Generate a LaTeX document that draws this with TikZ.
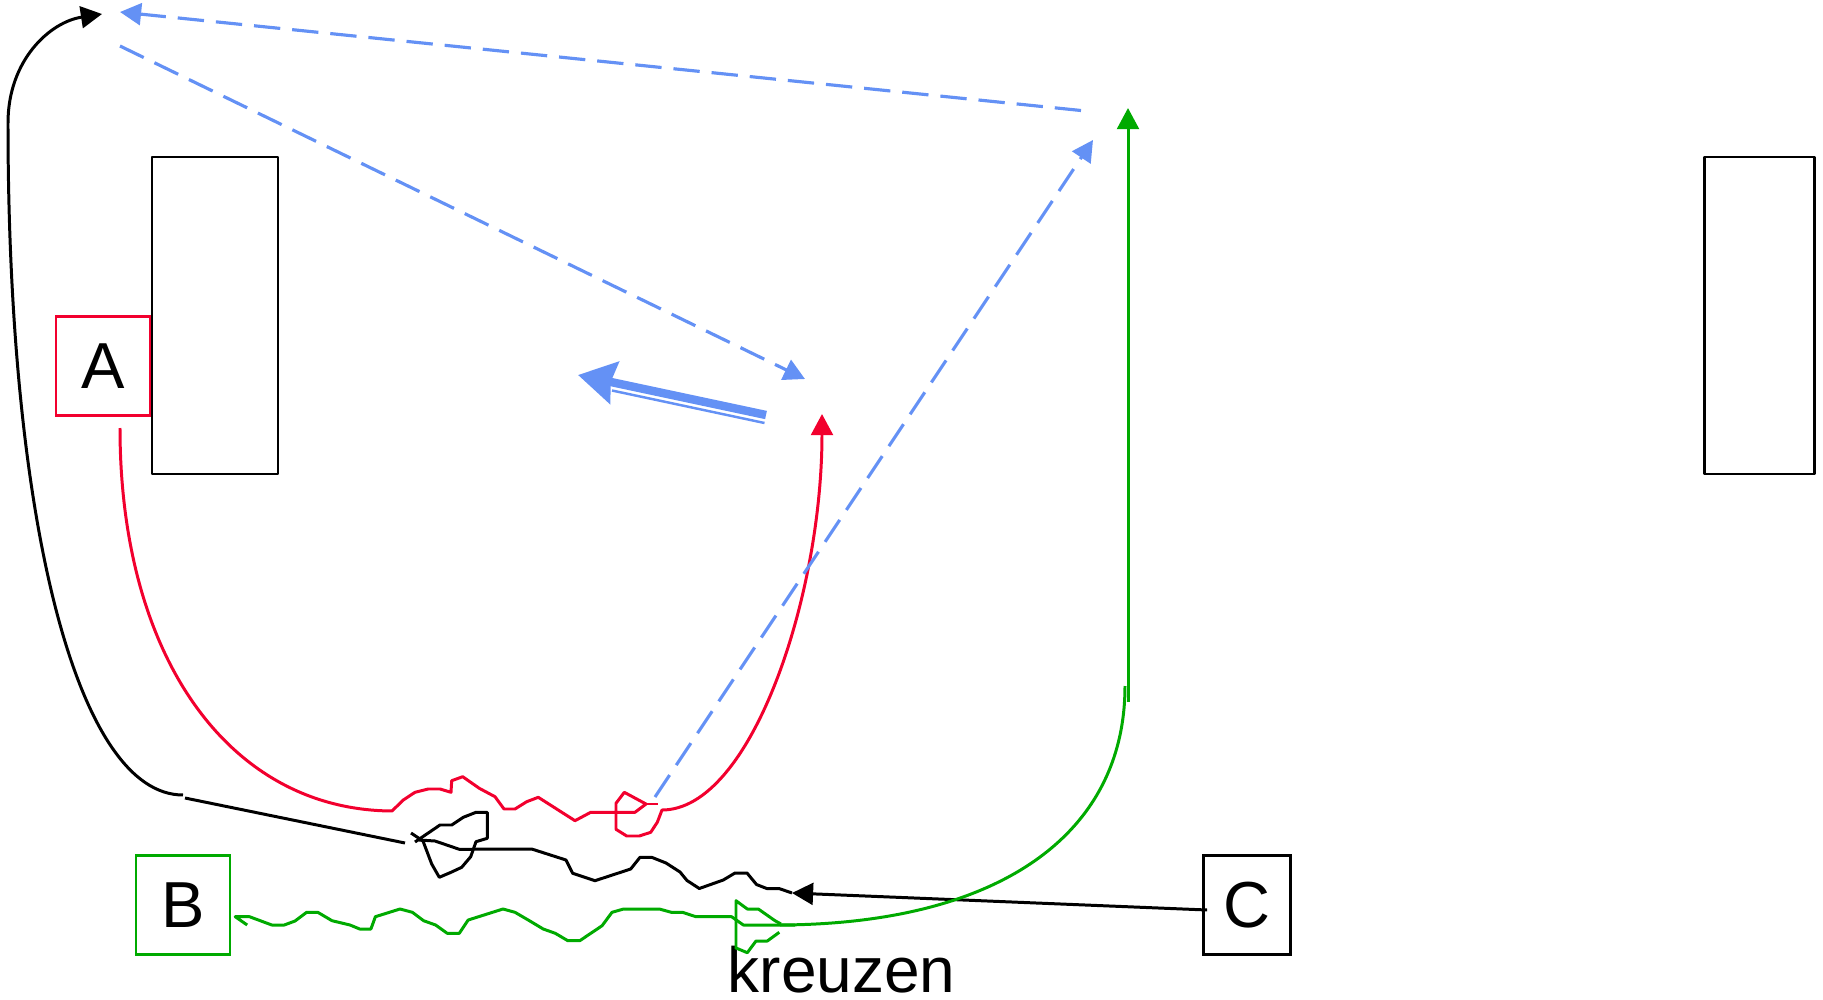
\documentclass[tikz,border=0pt]{standalone}
\usepackage{fontspec}
\setmainfont{Liberation Sans}
\usetikzlibrary{arrows.meta}

\begin{document}
\begin{tikzpicture}[
    x=0.01cm, y=-0.01cm,
    >=Stealth,
    every node/.style={font=\fontsize{18.5}{20}\selectfont},
    letterbox/.style={draw, line width=0.75pt, minimum width=0.94cm, minimum height=0.99cm, inner sep=0pt},
    sketch/.style={line width=0.85pt, line join=round},
    headarrow/.style={-{Triangle[length=6pt,width=6.2pt]}},
    dashflow/.style={sketchBlue, line width=0.9pt, dash pattern=on 7.5pt off 3.4pt, headarrow},
]

\definecolor{sketchRed}{RGB}{242,0,46}
\definecolor{sketchGreen}{RGB}{0,170,0}
\definecolor{sketchBlue}{RGB}{100,145,245}

% page size of the reference (pixels)
\useasboundingbox (0,0) rectangle (1823,1000);

% ============================================================
% FRAMES AND LETTER BOXES
% ============================================================
\draw[sketch] (152,157) rectangle (278,474);
\draw[sketch] (1704,157) rectangle (1814,474);

\node[letterbox, draw=sketchRed] (A) at (103,366) {A};
\node[letterbox, draw=sketchGreen] (B) at (183,905) {B};
\node[letterbox, minimum width=0.87cm] (C) at (1247,905) {C};
\node[anchor=base west, inner sep=0pt, font=\fontsize{18.2}{20}\selectfont]
    (kreuzen) at (727,992) {kreuzen};

% free ends of the connectors
\coordinate (blackTop) at (102,14);
\coordinate (blackBend) at (8,123);
\coordinate (blackFoot) at (183,795);
\coordinate (redStart) at (120,428);
\coordinate (redTip) at (822,414);
\coordinate (greenFoot) at (1128,702);
\coordinate (greenTip) at (1128,108);
\coordinate (blackTip) at (792,893);

% ============================================================
% BLACK PATH (A side)
% ============================================================
\draw[sketch, headarrow] (blackBend) .. controls (8,60) and (50,22) .. (blackTop);
\draw[sketch] (blackBend) .. controls (8,526) and (78,795) .. (blackFoot);
\draw[sketch] (185,798) -- (405,843);

% scribbled crossing
\draw[sketch] (411,833) -- (423,841) -- (431.7,864) -- (439.3,877.3) -- (451,872.3)
    -- (461.7,867.3) -- (470.7,856.7) -- (476,841.7) -- (487.3,838.3) -- (487.3,812.3)
    -- (476,812.3) -- (463.3,817.3) -- (451.7,825) -- (440,825) -- (415,842);
\draw[sketch] (419,840) -- (435,841) -- (459.3,849.3) -- (531.7,849) -- (566,860)
    -- (572.7,873.3) -- (595,880.7) -- (630.7,869) -- (640,857.3) -- (651.7,857.3)
    -- (666,863) -- (680,872) -- (687,880.5) -- (699.3,888.5) -- (723.3,880)
    -- (735,873) -- (747,873) -- (756.5,884.5) -- (766.7,888.5) -- (779,888.5)
    -- (blackTip);
\draw[sketch, headarrow] ([shift={(5,5)}]C.west) -- (blackTip);

% ============================================================
% RED PATH
% ============================================================
\draw[sketch, sketchRed, headarrow] (redStart) .. controls (120,657) and (229,810) .. (392,811)
    -- (403.3,800) -- (415,792.3) -- (428.3,789) -- (440,789) -- (451,792.3)
    -- (451.7,780.7) -- (462.7,776.7) -- (479.3,788.3) -- (495,796.7) -- (504,809)
    -- (515,809) -- (526.7,801.7) -- (538.3,797.3) -- (575,820.7) -- (590.7,812.3)
    -- (635,812.3) -- (646,804) -- (624.3,792.3) -- (616,803.3) -- (616,829.3)
    -- (626.7,836) -- (639.3,836) -- (650.7,832.3) -- (657.3,822.3) -- (662,810)
    .. controls (751,810) and (822,597) .. (redTip);
\draw[sketch, sketchRed] (646,804) -- (658.3,804);

% ============================================================
% GREEN PATH
% ============================================================
\draw[sketch, sketchGreen] (247.2,925) -- (235.2,916.7) -- (249.5,916.7) -- (271.8,925)
    -- (284.3,925) -- (295,921) -- (306.6,912.3) -- (317.8,912.3) -- (332,920.7)
    -- (350,925) -- (359.7,929) -- (370.9,929) -- (375.4,916.7) -- (400,909)
    -- (412.4,912.3) -- (423.6,920.7) -- (435.6,925) -- (447.2,933.3) -- (459.3,933.3)
    -- (468.2,920) -- (503,909) -- (515,912.3) -- (529.4,920.7) -- (543.2,929)
    -- (555.3,933.3) -- (567.8,940.7) -- (579.8,940.7) -- (602.1,925.7) -- (612,912.3)
    -- (623.6,909) -- (659.3,909) -- (671.3,912.3) -- (682.5,912.3) -- (695.9,916.7)
    -- (731.6,916.7) -- (743.3,925) -- (795,925);
\draw[sketch, sketchGreen] (736,949) -- (736,900.7) -- (747.3,909) -- (758.3,909)
    -- (775,920.7) -- (781,924);
\draw[sketch, sketchGreen] (736,948) -- (747.3,952.7) -- (756,941) -- (767.3,941)
    -- (779.3,932.3);
\draw[sketch, sketchGreen] (780,925) .. controls (1000,924) and (1125,834) .. (1125,686);
\draw[sketch, sketchGreen, headarrow] (greenFoot) -- (greenTip);

% ============================================================
% BLUE DASHED MOVES
% ============================================================
\draw[dashflow] (1081,110.5) -- (120,12);
\draw[dashflow] (120,46) -- (805,379);
\draw[dashflow] (655,797) -- (1093,140);

% double arrow
\draw[sketchBlue, line width=2.4pt, -{Stealth[length=10.5pt,width=12pt,inset=1pt]}]
    (766,415) -- (578,375);
\draw[sketchBlue, line width=0.7pt] (764.5,423) -- (612,390.5);

\end{tikzpicture}
\end{document}
